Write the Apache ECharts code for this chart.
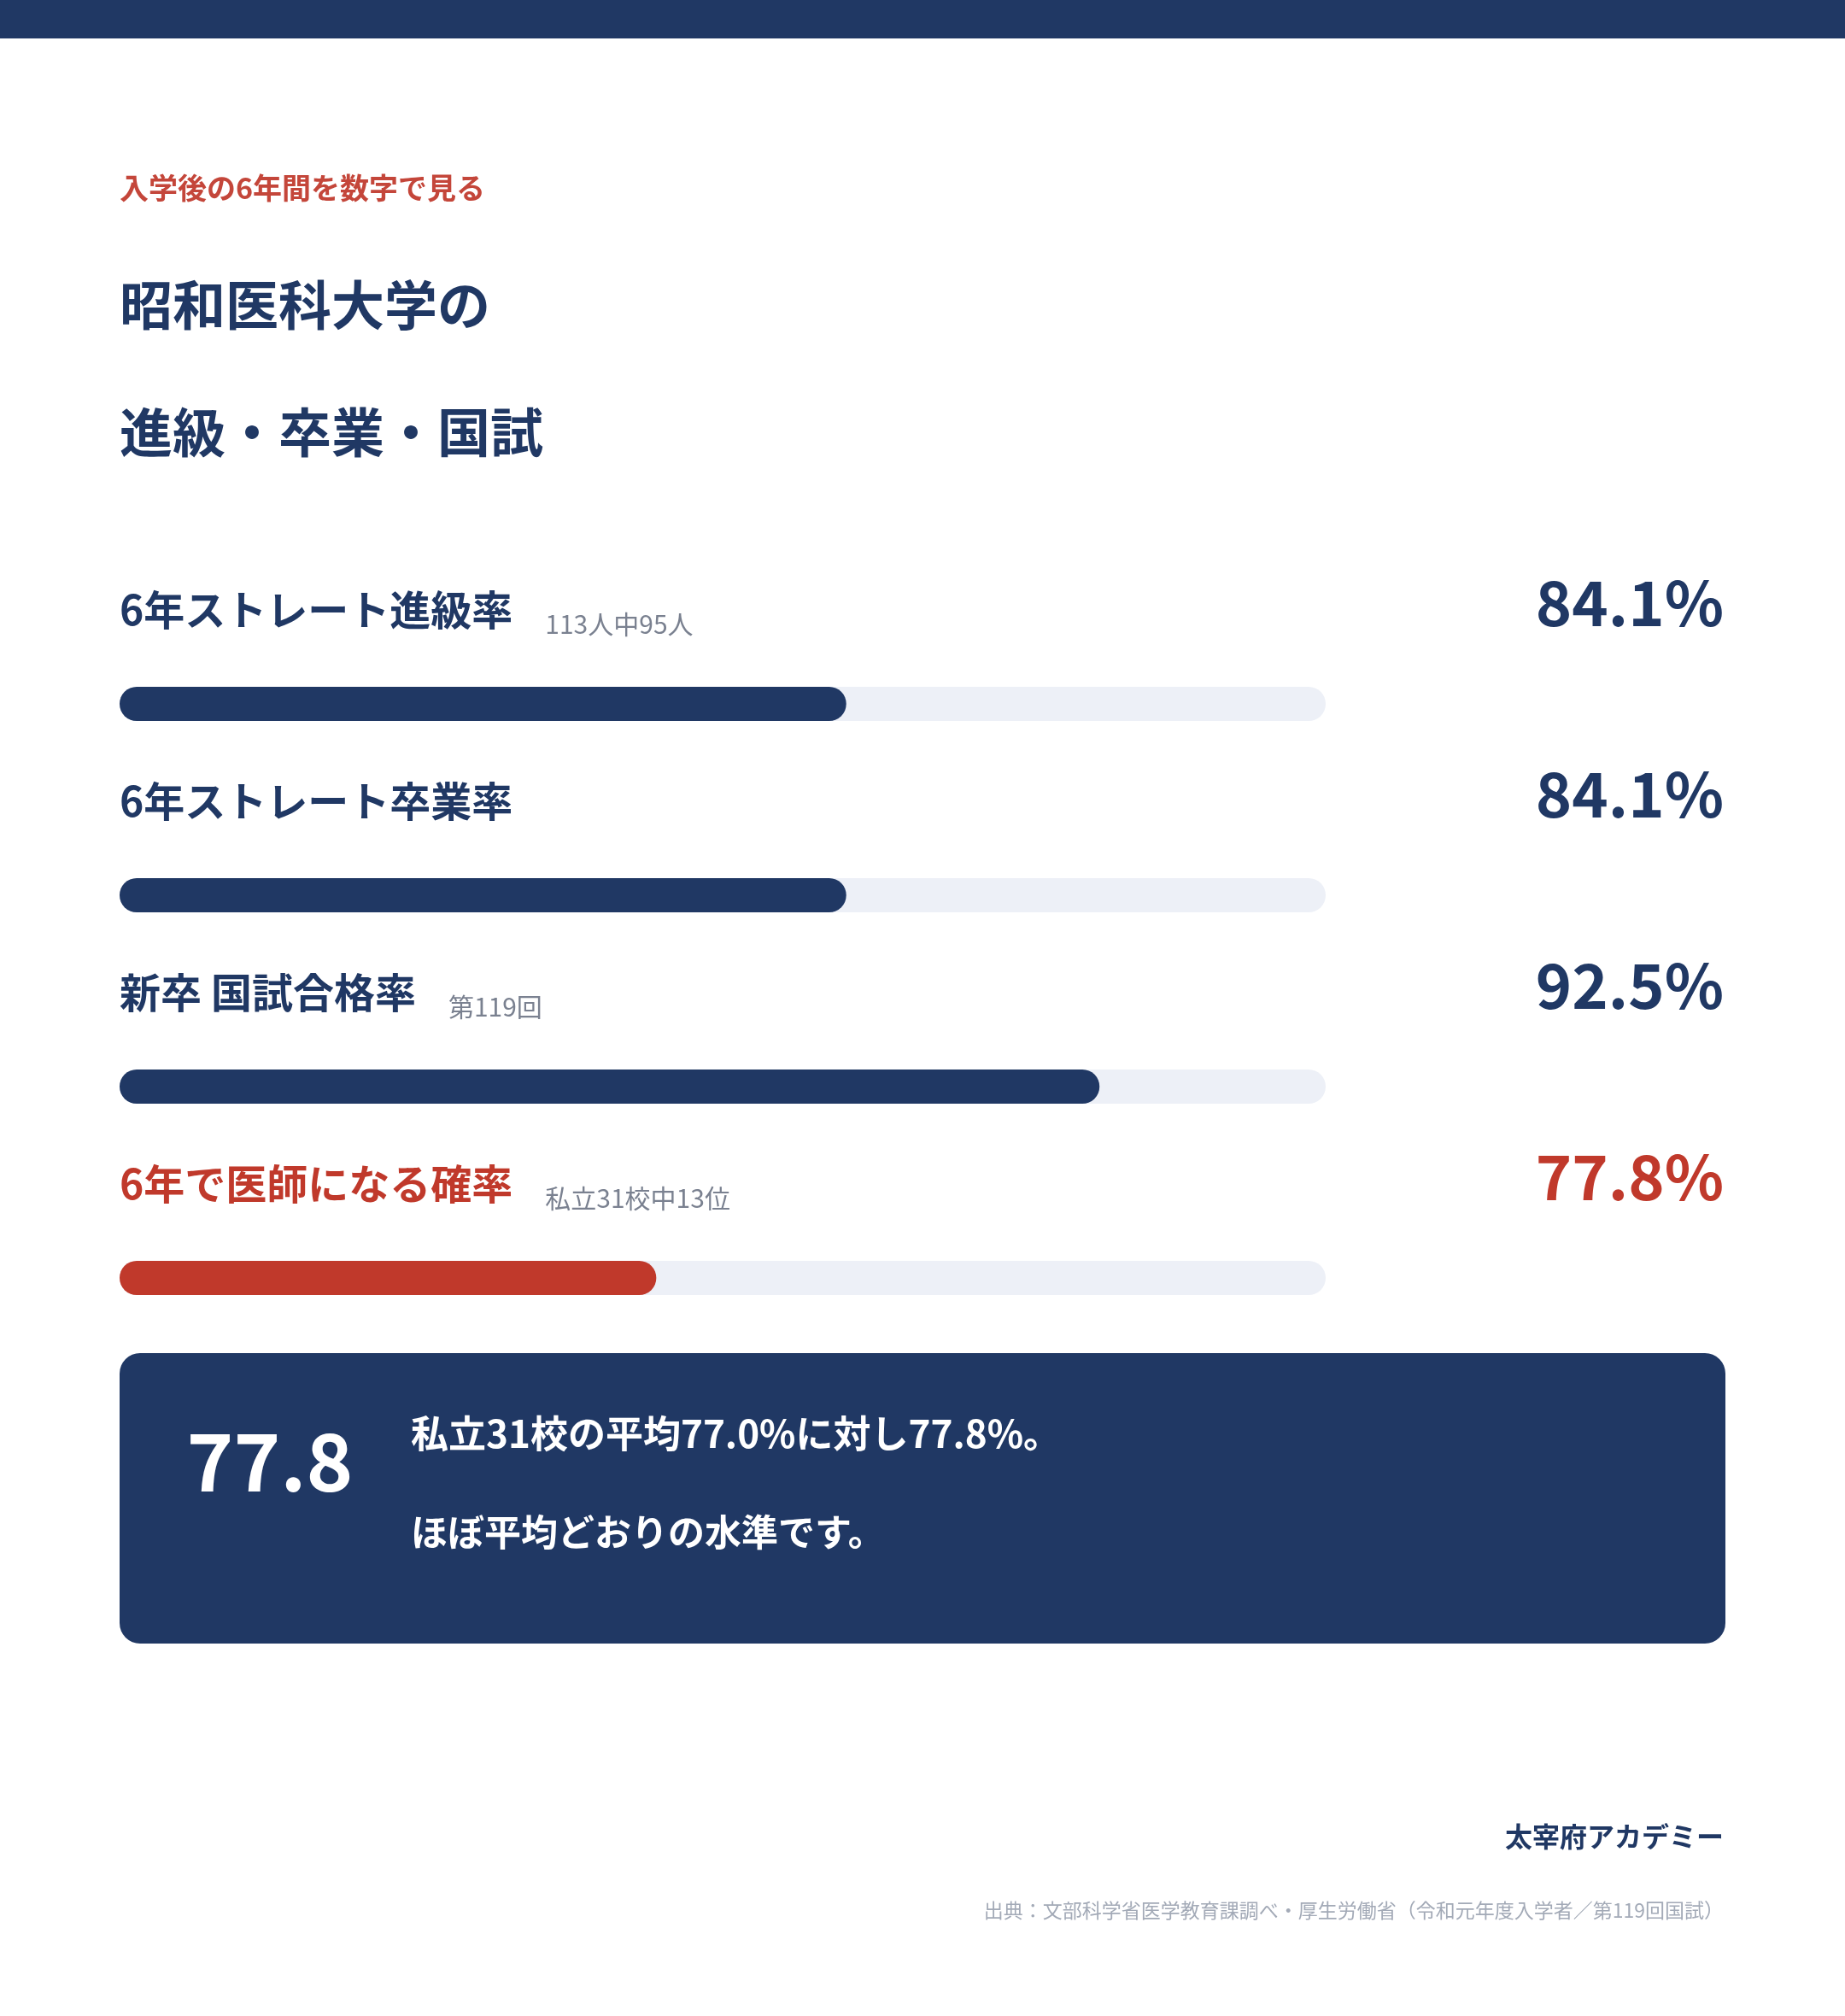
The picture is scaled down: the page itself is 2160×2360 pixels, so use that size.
<!DOCTYPE html>
<html>
<head>
<meta charset="utf-8">
<script src="https://cdn.jsdelivr.net/npm/echarts@6/dist/echarts.min.js"></script>
<style>
html,body{margin:0;padding:0;background:#ffffff;}
#chart{width:2160px;height:2360px;}
</style>
</head>
<body>
<div id="chart"></div>
<script>
// ---- data ----
const kicker = '入学後の6年間を数字で見る';
const titleLines = ['昭和医科大学の', '進級・卒業・国試'];
const categories = ['6年ストレート進級率', '6年ストレート卒業率', '新卒 国試合格率', '6年で医師になる確率'];
const subLabels = ['113人中95人', '', '第119回', '私立31校中13位'];
const values = [84.1, 84.1, 92.5, 77.8];
const highlightIndex = 3;
const axisMin = 60;
const axisMax = 100;
const calloutValue = '77.8';
const calloutLines = ['私立31校の平均77.0%に対し77.8%。', 'ほぼ平均どおりの水準です。'];
const brand = '太宰府アカデミー';
const sourceText = '出典：文部科学省医学教育課調べ・厚生労働省（令和元年度入学者／第119回国試）';

// ---- style ----
const NAVY = '#203864';
const RED = '#C0392B';
const TRACK = '#EDF0F7';
const FONT = '"Noto Sans CJK JP", "Noto Sans", sans-serif';

const chart = echarts.init(document.getElementById('chart'), null, {renderer: 'canvas'});

const option = {
  backgroundColor: '#ffffff',
  animation: false,
  textStyle: {fontFamily: FONT},
  grid: {left: 140, top: 712, width: 1412, height: 896},
  xAxis: {
    type: 'value', min: axisMin, max: axisMax, startValue: axisMin,
    show: false, splitLine: {show: false}
  },
  yAxis: {
    type: 'category', data: categories, inverse: true,
    show: false
  },
  series: [
    {
      type: 'bar',
      data: values,
      barWidth: 40,
      showBackground: true,
      backgroundStyle: {color: TRACK, borderRadius: 20},
      itemStyle: {
        borderRadius: 20,
        color: p => p.dataIndex === highlightIndex ? RED : NAVY
      },
      label: {
        show: true,
        position: 'insideLeft',
        distance: 0,
        offset: [0, -110],
        align: 'left',
        verticalAlign: 'middle',
        fontFamily: FONT,
        formatter: p => {
          const main = (p.dataIndex === highlightIndex ? '{r|' : '{m|') + categories[p.dataIndex] + '}';
          const sub = subLabels[p.dataIndex] ? '{s|' + subLabels[p.dataIndex] + '}' : '';
          return main + sub;
        },
        rich: {
          m: {fontSize: 48, fontWeight: 'bold', color: NAVY, fontFamily: FONT, lineHeight: 64},
          r: {fontSize: 48, fontWeight: 'bold', color: RED, fontFamily: FONT, lineHeight: 64},
          s: {fontSize: 30, color: '#7A8190', fontFamily: FONT, lineHeight: 34, padding: [0, 0, 0, 38], verticalAlign: 'bottom'}
        }
      },
      z: 2
    },
    {
      type: 'bar',
      data: values,
      barWidth: 40,
      barGap: '-100%',
      silent: true,
      itemStyle: {color: 'rgba(0,0,0,0)'},
      label: {
        show: true,
        position: 'insideLeft',
        distance: 0,
        offset: [1878, -118],
        align: 'right',
        verticalAlign: 'middle',
        fontFamily: FONT,
        formatter: p => (p.dataIndex === highlightIndex ? '{r|' : '{m|') + values[p.dataIndex].toFixed(1) + '%}',
        rich: {
          m: {fontSize: 72, fontWeight: 'bold', color: NAVY, fontFamily: FONT},
          r: {fontSize: 72, fontWeight: 'bold', color: RED, fontFamily: FONT}
        }
      },
      z: 3
    }
  ],
  graphic: [
    {type: 'rect', shape: {x: 0, y: 0, width: 2160, height: 45}, style: {fill: NAVY}, silent: true},
    {type: 'text', x: 140, y: 220, style: {text: kicker, fill: '#C4463A', font: 'bold 34px ' + FONT, verticalAlign: 'middle'}},
    {type: 'text', x: 140, y: 357, style: {text: titleLines[0], fill: NAVY, font: 'bold 62px ' + FONT, verticalAlign: 'middle'}},
    {type: 'text', x: 140, y: 506, style: {text: titleLines[1], fill: NAVY, font: 'bold 62px ' + FONT, verticalAlign: 'middle'}},
    {type: 'rect', shape: {x: 140, y: 1584, width: 1880, height: 340, r: 24}, style: {fill: NAVY}, silent: true},
    {type: 'text', x: 316, y: 1711, style: {text: calloutValue, fill: '#ffffff', font: 'bold 93px ' + FONT, align: 'center', verticalAlign: 'middle'}},
    {type: 'text', x: 481, y: 1678, style: {text: calloutLines[0], fill: '#ffffff', font: 'bold 44px ' + FONT, verticalAlign: 'middle'}},
    {type: 'text', x: 481, y: 1794, style: {text: calloutLines[1], fill: '#ffffff', font: 'bold 43px ' + FONT, verticalAlign: 'middle'}},
    {type: 'text', x: 2018, y: 2150, style: {text: brand, fill: NAVY, font: 'bold 32px ' + FONT, align: 'right', verticalAlign: 'middle'}},
    {type: 'text', x: 2018, y: 2236, style: {text: sourceText, fill: '#A3AAB7', font: '23px ' + FONT, align: 'right', verticalAlign: 'middle'}}
  ]
};

chart.setOption(option);
</script>
</body>
</html>
